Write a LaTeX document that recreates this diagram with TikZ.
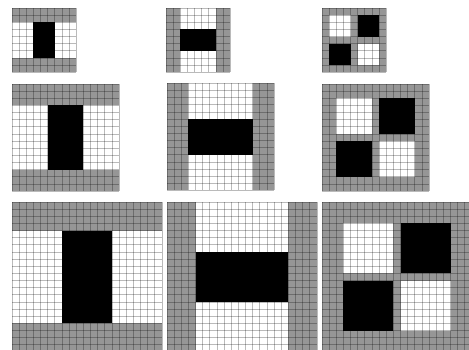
\documentclass[tikz,border=0pt]{standalone}
\definecolor{cellgray}{RGB}{150,150,150}
\tikzset{
  gridline/.style={draw=black,draw opacity=0.27,line width=0.55pt},
  panel/.style={x=5.355pt,y=-5.355pt},
  grayfill/.style={fill=cellgray},
  blackfill/.style={fill=black},
  whitefill/.style={fill=white}
}
\newcommand\mygridlines[1]{%
  \foreach \i in {0,...,#1}{%
    \draw[gridline] (\i,0) -- (\i,#1);
    \draw[gridline] (0,\i) -- (#1,\i);
  }%
}
\begin{document}
\begin{tikzpicture}[x=0.75pt,y=-0.75pt]
\useasboundingbox (0,0) rectangle (469,350);
\clip (0,0) rectangle (469,350);
\fill[white] (0,0) rectangle (469,350);

% ---------- Row 1 ----------
\begin{scope}[xshift=9pt,yshift=-6pt,panel]
  \fill[whitefill] (0,0) rectangle (9,9);
  \fill[grayfill] (0,0) rectangle (9,2);
  \fill[grayfill] (0,7) rectangle (9,9);
  \mygridlines{9}
  \fill[blackfill] (3,2) rectangle (6,7);
\end{scope}
\begin{scope}[xshift=124.5pt,yshift=-6pt,panel]
  \fill[whitefill] (0,0) rectangle (9,9);
  \fill[grayfill] (0,0) rectangle (2,9);
  \fill[grayfill] (7,0) rectangle (9,9);
  \mygridlines{9}
  \fill[blackfill] (2,3) rectangle (7,6);
\end{scope}
\begin{scope}[xshift=241.5pt,yshift=-6pt,panel]
  \fill[grayfill] (0,0) rectangle (9,9);
  \fill[whitefill] (1,1) rectangle (4,4);
  \fill[whitefill] (5,5) rectangle (8,8);
  \mygridlines{9}
  \fill[blackfill] (5,1) rectangle (8,4);
  \fill[blackfill] (1,5) rectangle (4,8);
\end{scope}

% ---------- Row 2 ----------
\begin{scope}[xshift=9pt,yshift=-63pt,panel]
  \fill[whitefill] (0,0) rectangle (15,15);
  \fill[grayfill] (0,0) rectangle (15,3);
  \fill[grayfill] (0,12) rectangle (15,15);
  \mygridlines{15}
  \fill[blackfill] (5,3) rectangle (10,12);
\end{scope}
\begin{scope}[xshift=125.25pt,yshift=-62.5pt,panel]
  \fill[whitefill] (0,0) rectangle (15,15);
  \fill[grayfill] (0,0) rectangle (3,15);
  \fill[grayfill] (12,0) rectangle (15,15);
  \mygridlines{15}
  \fill[blackfill] (3,5) rectangle (12,10);
\end{scope}
\begin{scope}[xshift=241.5pt,yshift=-63pt,panel]
  \fill[grayfill] (0,0) rectangle (15,15);
  \fill[whitefill] (2,2) rectangle (7,7);
  \fill[whitefill] (8,8) rectangle (13,13);
  \mygridlines{15}
  \fill[blackfill] (8,2) rectangle (13,7);
  \fill[blackfill] (2,8) rectangle (7,13);
\end{scope}

% ---------- Row 3 ----------
\begin{scope}[xshift=9pt,yshift=-151.5pt,panel]
  \fill[whitefill] (0,0) rectangle (21,21);
  \fill[grayfill] (0,0) rectangle (21,4);
  \fill[grayfill] (0,17) rectangle (21,21);
  \mygridlines{21}
  \fill[blackfill] (7,4) rectangle (14,17);
\end{scope}
\begin{scope}[xshift=125.25pt,yshift=-151.5pt,panel]
  \fill[whitefill] (0,0) rectangle (21,21);
  \fill[grayfill] (0,0) rectangle (4,21);
  \fill[grayfill] (17,0) rectangle (21,21);
  \mygridlines{21}
  \fill[blackfill] (4,7) rectangle (17,14);
\end{scope}
\begin{scope}[xshift=241.5pt,yshift=-151.5pt,panel]
  \fill[grayfill] (0,0) rectangle (21,21);
  \fill[whitefill] (3,3) rectangle (10,10);
  \fill[whitefill] (11,11) rectangle (18,18);
  \mygridlines{21}
  \fill[blackfill] (11,3) rectangle (18,10);
  \fill[blackfill] (3,11) rectangle (10,18);
\end{scope}
\end{tikzpicture}
\end{document}
